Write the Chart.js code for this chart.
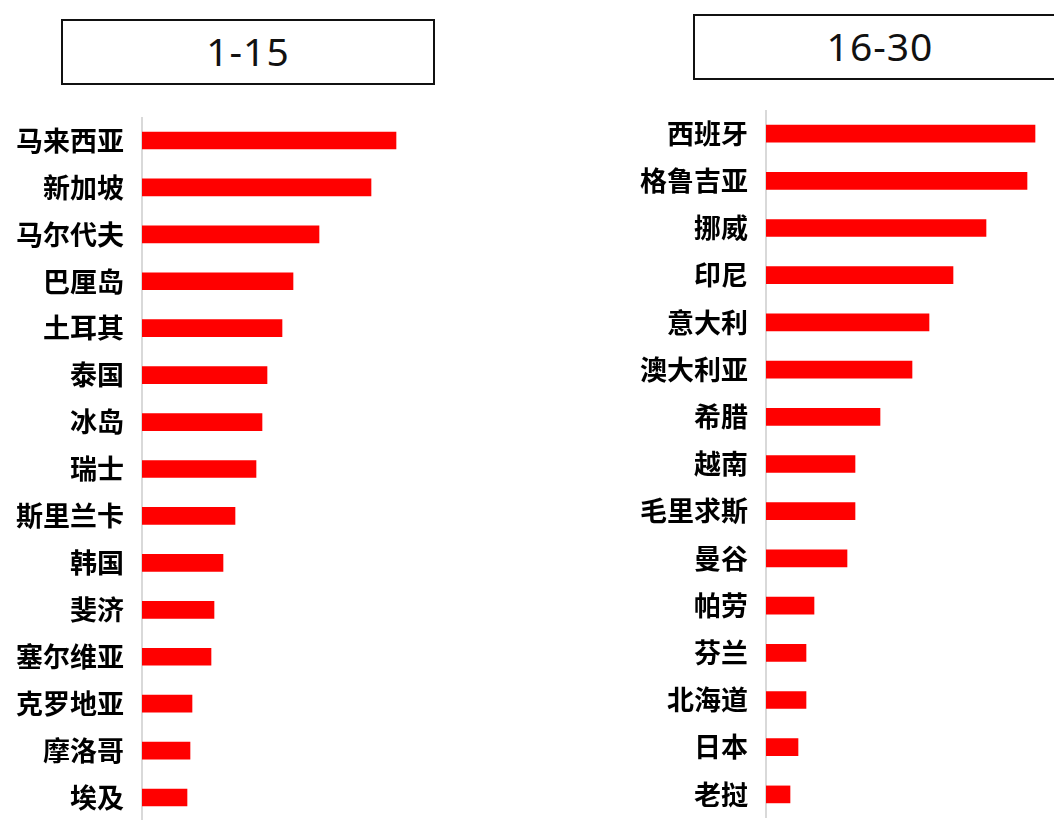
<!DOCTYPE html>
<html>
<head>
<meta charset="utf-8">
<script src="https://cdn.jsdelivr.net/npm/chart.js@4.4.1/dist/chart.umd.min.js"></script>
<style>
  html, body { margin: 0; padding: 0; background: #fff; overflow: hidden; }
  body { width: 1054px; height: 820px; position: relative; }
  .titulo {
    position: absolute; box-sizing: border-box;
    border: 2px solid #111; background: #fff;
    font-family: "Noto Sans", "DejaVu Sans", sans-serif;
    font-size: 39px; color: #111; text-align: center; letter-spacing: 1px;
  }
  #t1 { left: 61px; top: 19px; width: 374px; height: 66px; line-height: 60px; }
  #t2 { left: 693px; top: 14px; width: 374px; height: 66px; line-height: 60px; }
  .caja { position: absolute; }
  #c1 { left: 0; top: 117px; width: 450px; height: 704px; }
  #c2 { left: 620px; top: 110px; width: 434px; height: 708px; }
</style>
</head>
<body>
<div class="titulo" id="t1">1-15</div>
<div class="titulo" id="t2">16-30</div>
<div class="caja" id="c1"><canvas id="grafico1"></canvas></div>
<div class="caja" id="c2"><canvas id="grafico2"></canvas></div>

<script>
// datos (longitud relativa de cada barra)
let paises1 = ["马来西亚", "新加坡", "马尔代夫", "巴厘岛", "土耳其", "泰国", "冰岛", "瑞士",
               "斯里兰卡", "韩国", "斐济", "塞尔维亚", "克罗地亚", "摩洛哥", "埃及"];
let valores1 = [254, 229, 177, 151, 140, 125, 120, 114, 93, 81, 72, 69, 50, 48, 45];

let paises2 = ["西班牙", "格鲁吉亚", "挪威", "印尼", "意大利", "澳大利亚", "希腊", "越南",
               "毛里求斯", "曼谷", "帕劳", "芬兰", "北海道", "日本", "老挝"];
let valores2 = [269, 261, 220, 187, 163, 146, 114, 89, 89, 81, 48, 40, 40, 32, 24];

function crearGrafico(id, etiquetas, datos, anchoEje, maximo) {
    let ctx = document.getElementById(id).getContext("2d");
    return new Chart(ctx, {
        type: "bar",
        data: {
            labels: etiquetas,
            datasets: [{
                data: datos,
                backgroundColor: "#ff0000",
                barThickness: 17
            }]
        },
        options: {
            indexAxis: "y",
            responsive: true,
            maintainAspectRatio: false,
            animation: false,
            layout: { padding: 0 },
            plugins: {
                legend: { display: false },
                tooltip: { enabled: false }
            },
            scales: {
                x: {
                    display: false,
                    min: 0,
                    max: maximo
                },
                y: {
                    grid: { display: false, drawTicks: false },
                    border: { display: true, color: "#d9d9d9", width: 2 },
                    ticks: {
                        color: "#000",
                        padding: 18,
                        font: { family: "'Noto Sans CJK SC'", size: 27, weight: "bold" }
                    },
                    afterFit: function (escala) {
                        escala.width = anchoEje;  // ancho fijo para alinear el eje
                        escala.paddingTop = 0;
                        escala.paddingBottom = 0;
                    }
                }
            }
        }
    });
}

crearGrafico("grafico1", paises1, valores1, 142, 308);
crearGrafico("grafico2", paises2, valores2, 146, 288);
</script>
</body>
</html>
